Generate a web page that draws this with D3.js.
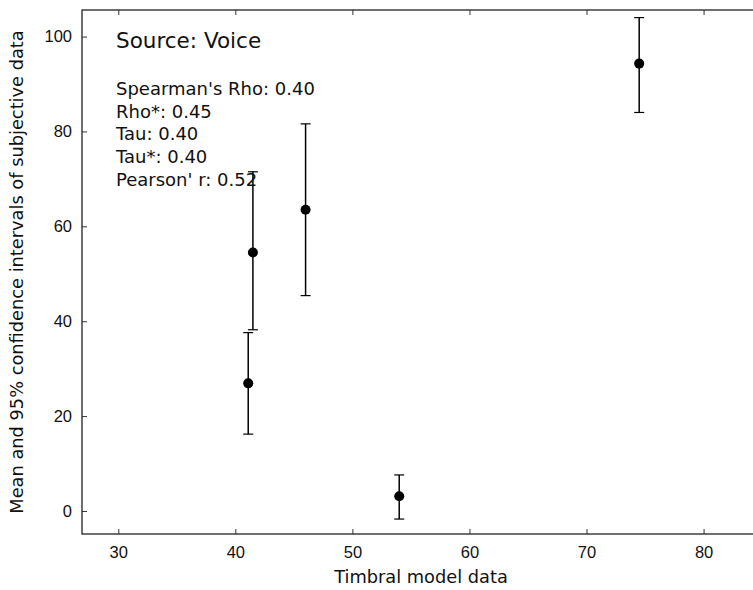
<!DOCTYPE html>
<html>
<head>
<meta charset="utf-8">
<script src="https://cdn.jsdelivr.net/npm/d3@7"></script>
<style>
    body { margin: 0; background: #fff; overflow: hidden; }
    svg { display: block; font-family: "DejaVu Sans", sans-serif; }
    .axis text { font-size: 16.5px; fill: #111; }
    .axis path, .axis line { stroke: #333; }
</style>
</head>
<body>
<div class="chart"></div>
<script>
/*global d3*/

// values
const timbral = [41.1, 41.5, 46.0, 54.0, 74.5];
const means   = [26.9, 54.5, 63.5,  3.1, 94.3];
const lower   = [16.2, 38.2, 45.4, -1.7, 84.0];
const upper   = [37.6, 71.5, 81.6,  7.6, 104.0];

const xTicks = [30, 40, 50, 60, 70, 80];
const yTicks = [0, 20, 40, 60, 80, 100];

const source = "Source: Voice";
const stats = ["Spearman's Rho: 0.40", "Rho*: 0.45", "Tau: 0.40", "Tau*: 0.40", "Pearson' r: 0.52"];

const points = timbral.map((d, i) => ({x: d, y: means[i], lo: lower[i], hi: upper[i]}));

// plot box runs slightly past the right edge of the window, like the reference
const margin = {top: 10, right: -5, bottom: 56, left: 82},
      width = 753 - margin.left - margin.right,
      height = 590 - margin.top - margin.bottom;

const svg = d3.select(".chart").append("svg")
    .attr("width", 753)
    .attr("height", 590)
    .append("g")
    .attr("transform", "translate(" + margin.left + "," + margin.top + ")");

const x = d3.scaleLinear()
    .domain([26.9, 84.65])
    .range([0, width]);

const y = d3.scaleLinear()
    .domain([-4.85, 105.6])
    .range([height, 0]);

// ticks point inwards on every side, labels only bottom / left
svg.append("g")
    .attr("class", "x axis")
    .attr("transform", "translate(0," + height + ")")
    .call(d3.axisBottom(x).tickValues(xTicks).tickSizeInner(-5).tickSizeOuter(0).tickPadding(12))
    .call(g => g.select(".domain").remove());

svg.append("g")
    .attr("class", "x axis top")
    .call(d3.axisTop(x).tickValues(xTicks).tickSizeInner(-5).tickSizeOuter(0).tickFormat(""))
    .call(g => g.select(".domain").remove());

svg.append("g")
    .attr("class", "y axis")
    .call(d3.axisLeft(y).tickValues(yTicks).tickSizeInner(-5).tickSizeOuter(0).tickPadding(10))
    .call(g => g.select(".domain").remove());

svg.append("g")
    .attr("class", "y axis right")
    .attr("transform", "translate(" + width + ",0)")
    .call(d3.axisRight(y).tickValues(yTicks).tickSizeInner(-5).tickSizeOuter(0).tickFormat(""))
    .call(g => g.select(".domain").remove());

svg.append("rect")
    .attr("width", width)
    .attr("height", height)
    .attr("fill", "none")
    .attr("stroke", "#222")
    .attr("stroke-width", 1.3);

// error bars
const bars = svg.append("g")
    .attr("class", "errorbars")
    .selectAll("g")
    .data(points)
    .enter().append("g");

bars.append("line")
    .attr("x1", d => x(d.x))
    .attr("x2", d => x(d.x))
    .attr("y1", d => y(d.lo))
    .attr("y2", d => y(d.hi))
    .style("stroke", "#000")
    .style("stroke-width", 1.5);

bars.selectAll(".cap")
    .data(d => [[d.x, d.lo], [d.x, d.hi]])
    .enter().append("line")
    .attr("class", "cap")
    .attr("x1", d => x(d[0]) - 5)
    .attr("x2", d => x(d[0]) + 5)
    .attr("y1", d => y(d[1]))
    .attr("y2", d => y(d[1]))
    .style("stroke", "#000")
    .style("stroke-width", 1.2);

bars.append("circle")
    .attr("cx", d => x(d.x))
    .attr("cy", d => y(d.y))
    .attr("r", 5)
    .attr("fill", "#000");

// annotation text
svg.append("text")
    .attr("x", 34)
    .attr("y", 38)
    .style("font-size", "21.5px")
    .style("fill", "#111")
    .text(source);

svg.append("g")
    .attr("class", "stats")
    .selectAll("text")
    .data(stats)
    .enter().append("text")
    .attr("x", 34)
    .attr("y", (d, i) => 85 + i * 22.7)
    .style("font-size", "18px")
    .style("fill", "#111")
    .text(d => d);

svg.append("text")
    .attr("x", 339)
    .attr("y", height + 49)
    .attr("text-anchor", "middle")
    .style("font-size", "17.8px")
    .style("fill", "#111")
    .text("Timbral model data");

svg.append("text")
    .attr("transform", "translate(-59,262) rotate(-90)")
    .attr("text-anchor", "middle")
    .style("font-size", "17.8px")
    .style("fill", "#111")
    .text("Mean and 95% confidence intervals of subjective data");
</script>
</body>
</html>
